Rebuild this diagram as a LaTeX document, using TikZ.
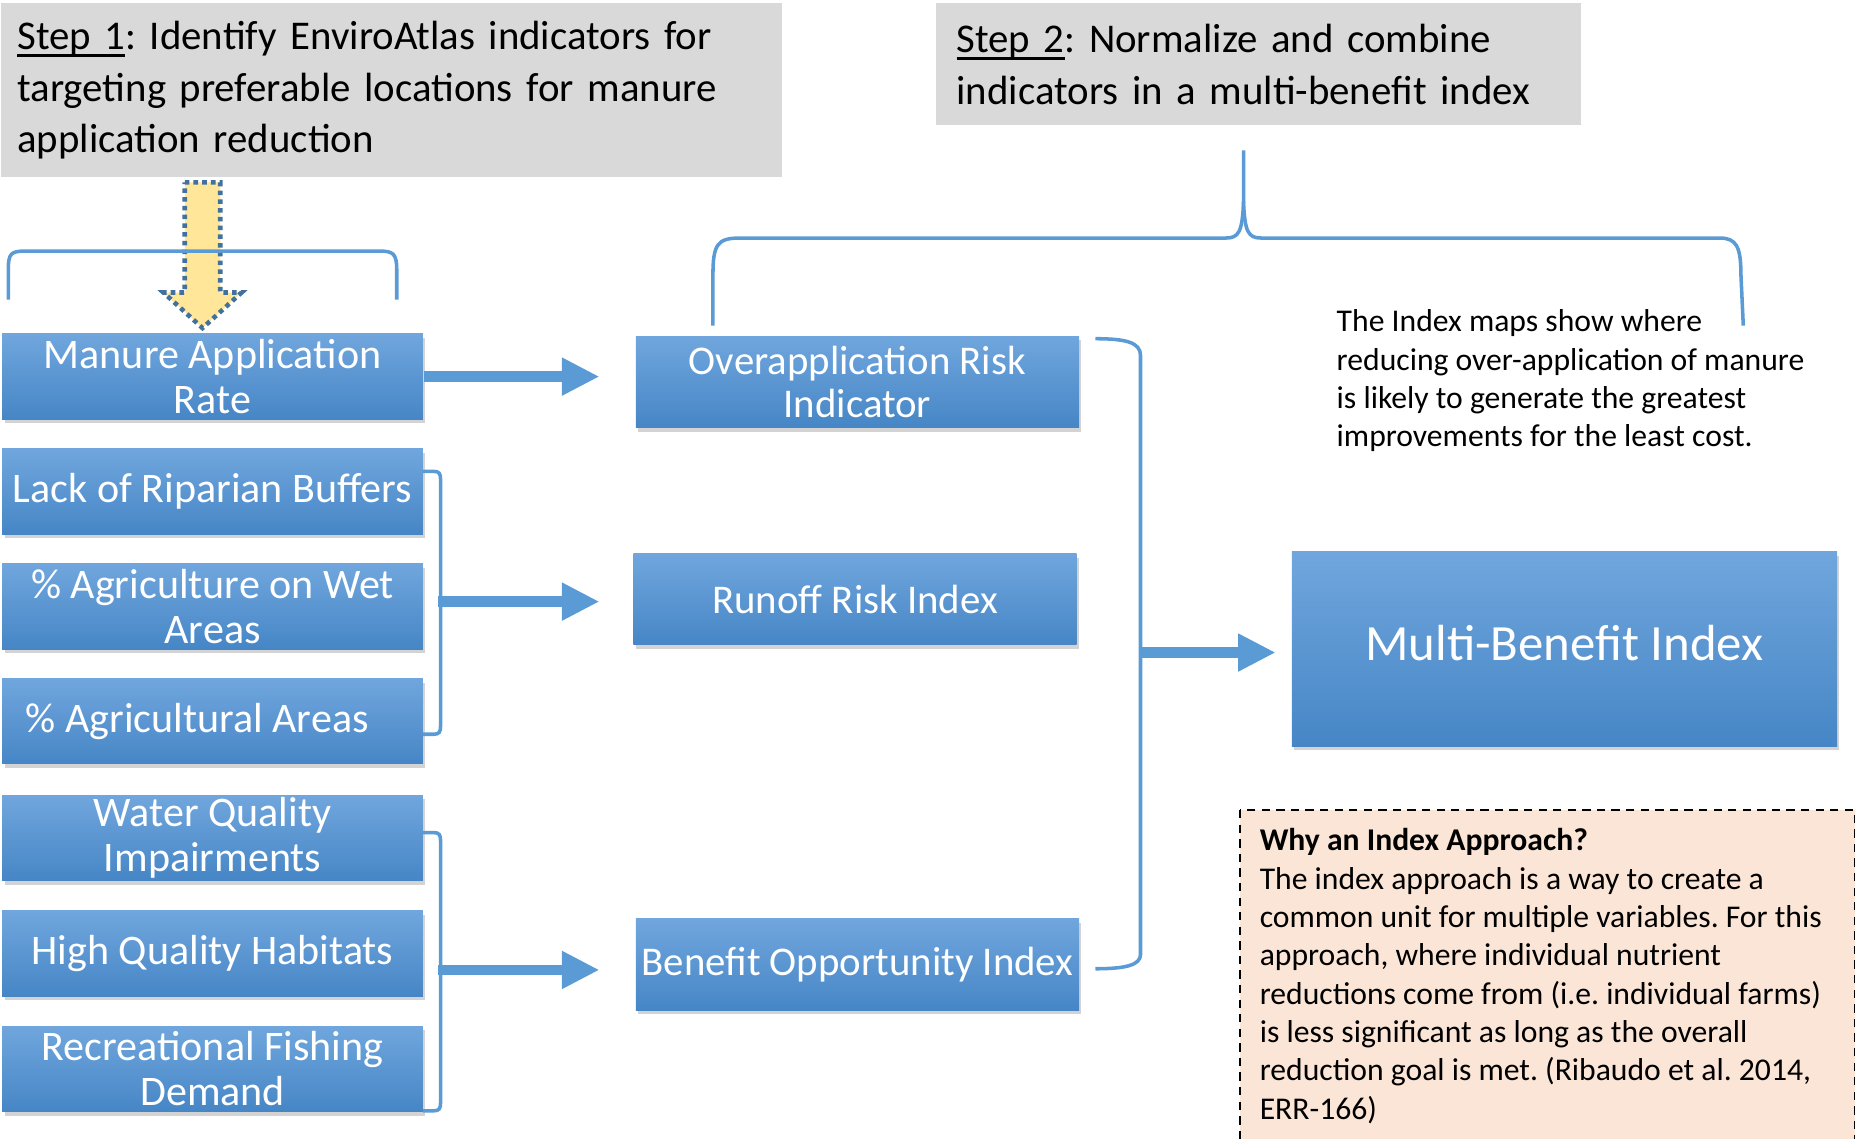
\documentclass[tikz,border=0pt]{standalone}
\usepackage{fontspec}
\setmainfont{Carlito}
\usetikzlibrary{arrows.meta,shadows}
\frenchspacing

\definecolor{linkblue}{HTML}{5B9BD5}
\definecolor{boxtop}{HTML}{70A6DD}
\definecolor{boxbot}{HTML}{4686C6}
\definecolor{stepgray}{HTML}{D9D9D9}
\definecolor{notepeach}{HTML}{FBE5D6}
\definecolor{arrowgold}{HTML}{FFE699}
\definecolor{dotblue}{HTML}{41719C}

\newcommand{\steplabel}[1]{\setbox0\hbox{#1}\rlap{\rule[-0.06cm]{\wd0}{0.025cm}}\box0}

\tikzset{
  indicator/.style={top color=boxtop, bottom color=boxbot, text=white, align=center,
    inner sep=0pt, minimum width=3.55cm, minimum height=0.72cm,
    font=\fontsize{10.1}{10.8}\selectfont,
    drop shadow={shadow xshift=0.02cm, shadow yshift=-0.035cm, opacity=0.35}},
  indexbox/.style={indicator, minimum width=3.74cm, minimum height=0.77cm,
    font=\fontsize{9.8}{10.2}\selectfont},
  stepbox/.style={fill=stepgray, anchor=north west, align=left, inner ysep=0pt,
    font=\fontsize{9.8}{12.4}\selectfont},
  notetext/.style={anchor=north west, align=left, inner sep=0pt,
    font=\fontsize{7.6}{9.2}\selectfont},
  link/.style={draw=linkblue, line width=0.85pt},
  fatarrow/.style={draw=linkblue, line width=2.6pt, -{Triangle[width=8.5pt,length=9pt]}},
}

\begin{document}
\begin{tikzpicture}[x=0.01cm, y=-0.01cm]
  \useasboundingbox (0,0) rectangle (1568,961);

  % Step headers
  \node[stepbox, text width=6.31cm, inner xsep=0.14cm, minimum height=1.47cm] (step1) at (0,2)
    {\steplabel{Step 1}: Identify EnviroAtlas indicators for\\targeting preferable locations for manure\\application reduction};
  \node[stepbox, text width=5.10cm, inner xsep=0.17cm, minimum height=1.03cm] (step2) at (790,2)
    {\steplabel{Step 2}: Normalize and combine\\indicators in a multi-benefit index};

  % Step 1 arrow and bracket
  \draw[fill=arrowgold, draw=dotblue, densely dotted, line width=1.1pt]
    (156,154) -- (186,154) -- (186,247) -- (204,247) -- (171,277) -- (138,247) -- (156,247) -- cycle;
  \draw[link] (7,253) -- (7,228) .. controls (7,214) and (9,212) .. (22,212) -- (320,212)
    .. controls (332,212) and (335,214) .. (335,228) -- (335,253);

  % Step 2 brace
  \draw[link] (602,275) -- (602,232) .. controls (602,206) and (606,201) .. (625,201) -- (1035,201)
    .. controls (1046,201) and (1049,196) .. (1050,170) -- (1050,127);
  \draw[link] (1050,170) .. controls (1051,196) and (1054,201) .. (1065,201) -- (1452,201)
    .. controls (1466,201) and (1470,208) .. (1470,232) -- (1472,275);

  % Indicators
  \node[indicator] (manure) at (179.5,318) {Manure Application\\Rate};
  \node[indicator] (riparian) at (179.5,415) {Lack of Riparian Buffers};
  \node[indicator] (wetag) at (179.5,512) {\% Agriculture on Wet\\Areas};
  \node[indicator] (agareas) at (179.5,609) {\% Agricultural Areas\hspace*{0.26cm}};
  \node[indicator] (water) at (179.5,707.5) {Water Quality\\Impairments};
  \node[indicator] (habitat) at (179.5,805) {High Quality Habitats};
  \node[indicator] (fishing) at (179.5,902.5) {Recreational Fishing\\Demand};

  % Indices
  \node[indexbox] (overapp) at (724,322.5) {Overapplication Risk\\Indicator};
  \node[indexbox] (runoff) at (722,506) {Runoff Risk Index};
  \node[indexbox] (benefit) at (724,814.5) {Benefit Opportunity Index};
  \node[indicator, minimum width=4.60cm, minimum height=1.64cm,
    font=\fontsize{12.2}{14}\selectfont] (multi) at (1321,548) {\raisebox{0.11cm}{Multi-Benefit Index}};

  % Group brackets
  \draw[link] (357,398) -- (366,398) .. controls (371,398) and (372,400) .. (372,405) -- (372,613)
    .. controls (372,618) and (371,620) .. (366,620) -- (357,620);
  \draw[link] (357,703) -- (366,703) .. controls (371,703) and (372,705) .. (372,710) -- (372,931)
    .. controls (372,936) and (371,938) .. (366,938) -- (357,938);
  \draw[link] (925,286) .. controls (950,286) and (963,289) .. (963,300) -- (963,806)
    .. controls (963,815) and (950,818) .. (925,818);
  \coordinate (runoffin) at (370,508);
  \coordinate (benefitin) at (370,819);
  \coordinate (multiin) at (963,551);

  % Arrows
  \draw[fatarrow, shorten >=0.30cm] (manure.east) -- (manure.east -| overapp.west);
  \draw[fatarrow, shorten >=0.28cm] (runoffin) -- (runoffin -| runoff.west);
  \draw[fatarrow, shorten >=0.30cm] (benefitin) -- (benefitin -| benefit.west);
  \draw[fatarrow, shorten >=0.13cm] (multiin) -- (multiin -| multi.west);

  % Notes
  \node[notetext] (mapnote) at (1128,261)
    {The Index maps show where\\reducing over-application of manure\\is likely to generate the greatest\\improvements for the least cost.};
  \draw[fill=notepeach, dash pattern=on 2pt off 1.5pt, line width=0.4pt] (1047,684) rectangle (1566,990);
  \node[notetext] (whynote) at (1063,699)
    {\textbf{Why an Index Approach?}\\The index approach is a way to create a\\common unit for multiple variables. For this\\approach, where individual nutrient\\reductions come from (i.e. individual farms)\\is less significant as long as the overall\\reduction goal is met. (Ribaudo et al. 2014,\\ERR-166)};
\end{tikzpicture}
\end{document}
